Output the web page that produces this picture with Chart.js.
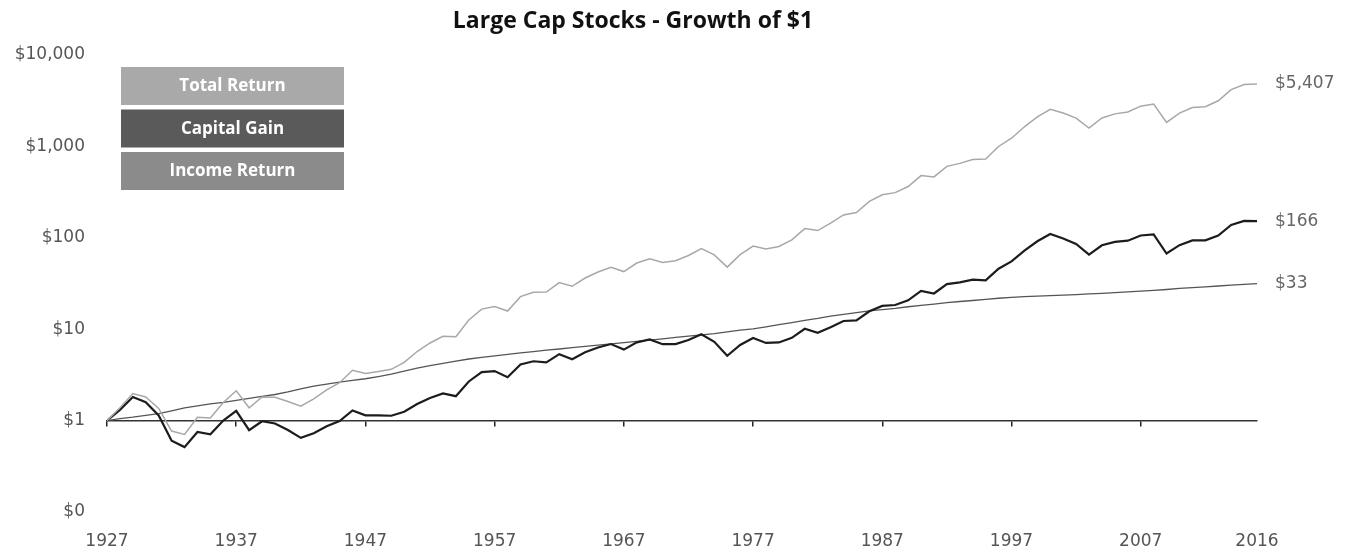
<!DOCTYPE html>
<html>
<head>
<meta charset="utf-8">
<script src="https://cdn.jsdelivr.net/npm/chart.js@4.4.1/dist/chart.umd.min.js"></script>
<style>
  body { margin: 0; background: #fff; }
  #wrap { position: relative; width: 1359px; height: 557px; }
  #title { position: absolute; top: 3px; left: 0; width: 1266px; text-align: center;
           font: bold 23px "Open Sans", sans-serif; color: #111; }
</style>
</head>
<body>
<div id="wrap">
  <div id="title">Large Cap Stocks - Growth of $1</div>
  <canvas id="growthChart"></canvas>
</div>
<script>
const years = [
  1927, 1928, 1929, 1930, 1931, 1932, 1933, 1934, 1935, 1936,
  1937, 1938, 1939, 1940, 1941, 1942, 1943, 1944, 1945, 1946,
  1947, 1948, 1949, 1950, 1951, 1952, 1953, 1954, 1955, 1956,
  1957, 1958, 1959, 1960, 1961, 1962, 1963, 1964, 1965, 1966,
  1967, 1968, 1969, 1970, 1971, 1972, 1973, 1974, 1975, 1976,
  1977, 1978, 1979, 1980, 1981, 1982, 1983, 1984, 1985, 1986,
  1987, 1988, 1989, 1990, 1991, 1992, 1993, 1994, 1995, 1996,
  1997, 1998, 1999, 2000, 2001, 2002, 2003, 2004, 2005, 2006,
  2007, 2008, 2009, 2010, 2011, 2012, 2013, 2014, 2015, 2016
];

const totalReturn = [
  1.00, 1.38, 1.98, 1.81, 1.36, 0.769, 0.706, 1.09, 1.07, 1.58,
  2.12, 1.38, 1.81, 1.80, 1.62, 1.44, 1.73, 2.17, 2.60, 3.55,
  3.27, 3.45, 3.64, 4.33, 5.70, 7.07, 8.37, 8.28, 12.6, 16.6,
  17.7, 15.8, 22.7, 25.4, 25.5, 32.4, 29.5, 36.3, 42.2, 47.5,
  42.7, 53.0, 58.8, 53.8, 56.0, 64.0, 76.1, 65.0, 47.8, 65.5,
  81.2, 75.3, 80.3, 95.1, 126, 120, 145, 178, 189, 250,
  296, 312, 364, 479, 464, 605, 652, 717, 726, 998,
  1228, 1638, 2106, 2549, 2317, 2041, 1590, 2046, 2269, 2380,
  2756, 2907, 1832, 2316, 2665, 2721, 3157, 4179, 4751, 4817
];

const capitalGain = [
  1.00, 1.31, 1.81, 1.59, 1.14, 0.602, 0.513, 0.752, 0.707, 1.00,
  1.28, 0.785, 0.983, 0.930, 0.788, 0.647, 0.727, 0.869, 0.989, 1.29,
  1.14, 1.14, 1.13, 1.25, 1.52, 1.77, 1.98, 1.85, 2.68, 3.39,
  3.48, 2.98, 4.11, 4.46, 4.33, 5.33, 4.70, 5.59, 6.31, 6.88,
  5.98, 7.18, 7.73, 6.86, 6.86, 7.60, 8.79, 7.27, 5.11, 6.72,
  8.00, 7.08, 7.16, 8.04, 10.1, 9.13, 10.5, 12.3, 12.5, 15.7,
  18.0, 18.4, 20.7, 26.3, 24.6, 31.1, 32.5, 34.8, 34.2, 45.9,
  55.2, 72.3, 91.6, 110, 98.4, 85.5, 65.6, 82.8, 90.3, 93.0,
  106, 109, 67.3, 83.1, 93.7, 93.7, 106, 138, 153, 152
];

const incomeReturn = [
  1.00, 1.05, 1.09, 1.14, 1.19, 1.28, 1.38, 1.45, 1.52, 1.58,
  1.66, 1.75, 1.84, 1.93, 2.06, 2.22, 2.38, 2.50, 2.63, 2.75,
  2.87, 3.03, 3.22, 3.47, 3.75, 3.99, 4.23, 4.48, 4.72, 4.91,
  5.10, 5.31, 5.51, 5.69, 5.89, 6.07, 6.28, 6.49, 6.69, 6.90,
  7.14, 7.37, 7.60, 7.85, 8.16, 8.42, 8.66, 8.94, 9.36, 9.76,
  10.1, 10.6, 11.2, 11.8, 12.5, 13.1, 13.9, 14.5, 15.2, 15.9,
  16.4, 16.9, 17.6, 18.2, 18.8, 19.5, 20.1, 20.6, 21.2, 21.8,
  22.3, 22.7, 23.0, 23.3, 23.6, 23.9, 24.3, 24.7, 25.1, 25.6,
  26.1, 26.6, 27.2, 27.9, 28.5, 29.1, 29.7, 30.4, 31.0, 31.6
];

const seriesNames = ['Total Return', 'Capital Gain', 'Income Return'];
const endLabels = ['$5,407', '$166', '$33'];
const yearTicks = [1927, 1937, 1947, 1957, 1967, 1977, 1987, 1997, 2007, 2016];
const decadeTicks = [1927, 1937, 1947, 1957, 1967, 1977, 1987, 1997, 2007];
const yTicks = [0.1, 1, 10, 100, 1000, 10000];

const axisFont = { family: '"DejaVu Sans", sans-serif', size: 17 };

const toPoints = vals => years.map((yr, i) => ({ x: yr, y: vals[i] }));

// stacked grey boxes top-left instead of the normal legend
const boxLegend = {
  id: 'boxLegend',
  afterDraw(chart) {
    const ctx = chart.ctx;
    const left = chart.chartArea.left + 14;
    ctx.save();
    ctx.font = 'bold 17px "Open Sans", sans-serif';
    ctx.textAlign = 'center';
    ctx.textBaseline = 'middle';
    chart.data.datasets.forEach((ds, i) => {
      const top = chart.chartArea.top + 12 + i * 42.5;
      ctx.fillStyle = ds.boxColor;
      ctx.fillRect(left, top, 223, 38);
      ctx.fillStyle = '#fff';
      ctx.fillText(ds.label, left + 111.5, top + 19.5);
    });
    ctx.restore();
  }
};

// value labels at the right end of each line
const lineEnds = {
  id: 'lineEnds',
  afterDatasetsDraw(chart) {
    const ctx = chart.ctx;
    ctx.save();
    ctx.font = '17px "DejaVu Sans", sans-serif';
    ctx.fillStyle = '#666';
    ctx.textBaseline = 'middle';
    chart.data.datasets.forEach((ds, i) => {
      const pts = chart.getDatasetMeta(i).data;
      const last = pts[pts.length - 1];
      ctx.fillText(endLabels[i], last.x + 18, last.y);
    });
    ctx.restore();
  }
};

new Chart(document.getElementById('growthChart'), {
  type: 'line',
  data: {
    datasets: [
      {
        label: seriesNames[0],
        data: toPoints(totalReturn),
        borderColor: '#a8a8a8',
        borderWidth: 1.5,
        boxColor: '#a9a9a9'
      },
      {
        label: seriesNames[1],
        data: toPoints(capitalGain),
        borderColor: '#1c1c1c',
        borderWidth: 2.2,
        boxColor: '#5a5a5a'
      },
      {
        label: seriesNames[2],
        data: toPoints(incomeReturn),
        borderColor: '#555',
        borderWidth: 1.3,
        boxColor: '#8b8b8b'
      }
    ]
  },
  options: {
    responsive: true,
    maintainAspectRatio: false,
    animation: false,
    layout: { padding: { top: 55, right: 102, bottom: 0, left: 0 } },
    elements: { point: { radius: 0 }, line: { tension: 0 } },
    plugins: {
      legend: { display: false },
      tooltip: { enabled: false }
    },
    scales: {
      x: {
        type: 'linear',
        min: 1927,
        max: 2016,
        afterBuildTicks: s => { s.ticks = yearTicks.map(v => ({ value: v })); },
        afterFit: s => { s.height = 45; },
        grid: { display: false, drawTicks: false },
        border: { display: false },
        ticks: { padding: 19, color: '#555', font: axisFont, callback: v => String(v) }
      },
      xBase: {
        type: 'linear',
        min: 1927,
        max: 2016,
        position: { y: 1 },
        afterBuildTicks: s => { s.ticks = decadeTicks.map(v => ({ value: v })); },
        grid: { drawOnChartArea: false, drawTicks: true, tickLength: 5, color: '#222', lineWidth: 1.5 },
        border: { display: true, color: '#333', width: 1.5 },
        ticks: { display: false }
      },
      y: {
        type: 'logarithmic',
        min: 0.1,
        max: 10000,
        afterBuildTicks: s => { s.ticks = yTicks.map(v => ({ value: v })); },
        afterFit: s => { s.width = 107; },
        grid: { display: false },
        border: { display: false },
        ticks: {
          padding: 14,
          color: '#555',
          font: axisFont,
          callback: v => v < 1 ? '$0' : '$' + v.toLocaleString('en-US')
        }
      }
    }
  },
  plugins: [boxLegend, lineEnds]
});
</script>
</body>
</html>
